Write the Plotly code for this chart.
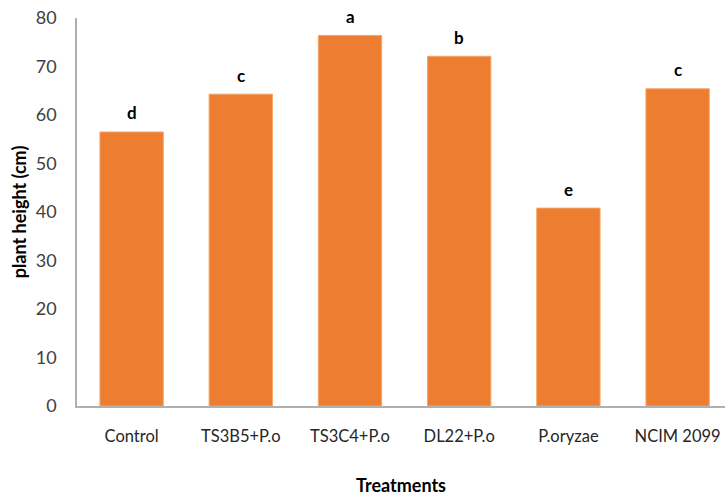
import plotly.graph_objects as go

categories = ["Control", "TS3B5+P.o", "TS3C4+P.o", "DL22+P.o", "P.oryzae", "NCIM 2099"]
plant_height = [56.5, 64.3, 76.4, 72.1, 40.8, 65.4]
letters = ["d", "c", "a", "b", "e", "c"]
y_ticks = [0, 10, 20, 30, 40, 50, 60, 70, 80]

FONT = "Lato, Carlito, 'Open Sans', sans-serif"

fig = go.Figure()
fig.add_trace(go.Bar(
    x=categories,
    y=plant_height,
    marker=dict(color="#ED7D31", line=dict(color="#F6A565", width=1)),
    width=0.58,
    hoverinfo="x+y",
))

for c, v, t in zip(categories, plant_height, letters):
    fig.add_annotation(x=c, y=v, text="<b>%s</b>" % t, showarrow=False,
                       yshift=19, font=dict(family=FONT, size=17, color="#000000"))

fig.update_layout(
    width=725, height=497,
    margin=dict(l=77, r=0, t=18, b=91, autoexpand=False),
    paper_bgcolor="white", plot_bgcolor="white",
    showlegend=False,
    font=dict(family=FONT, size=18, color="#404040"),
    xaxis=dict(
        range=[-0.5, 5.434], automargin=False,
        showline=True, linecolor="#b0b0b0", linewidth=1.5,
        ticks="", ticklabelstandoff=14, ticklabeloverflow="allow",
        tickfont=dict(family=FONT, size=16.5, color="#262626"),
        title=dict(text="<b>Treatments</b>", standoff=35,
                   font=dict(family=FONT, size=18, color="#000000")),
        showgrid=False, zeroline=False,
    ),
    yaxis=dict(
        range=[0, 80], tickvals=y_ticks, automargin=False,
        showline=True, linecolor="#b0b0b0", linewidth=1.5,
        ticks="", ticklabelstandoff=15, ticklabeloverflow="allow",
        tickfont=dict(family=FONT, size=18, color="#404040"),
        title=dict(text="<b>plant height (cm)</b>", standoff=4,
                   font=dict(family=FONT, size=18, color="#000000")),
        showgrid=False, zeroline=False,
    ),
)

fig.write_html("out.html",
               config={"displayModeBar": False},
               post_script="document.body.style.margin='0';document.body.style.overflow='hidden';")
